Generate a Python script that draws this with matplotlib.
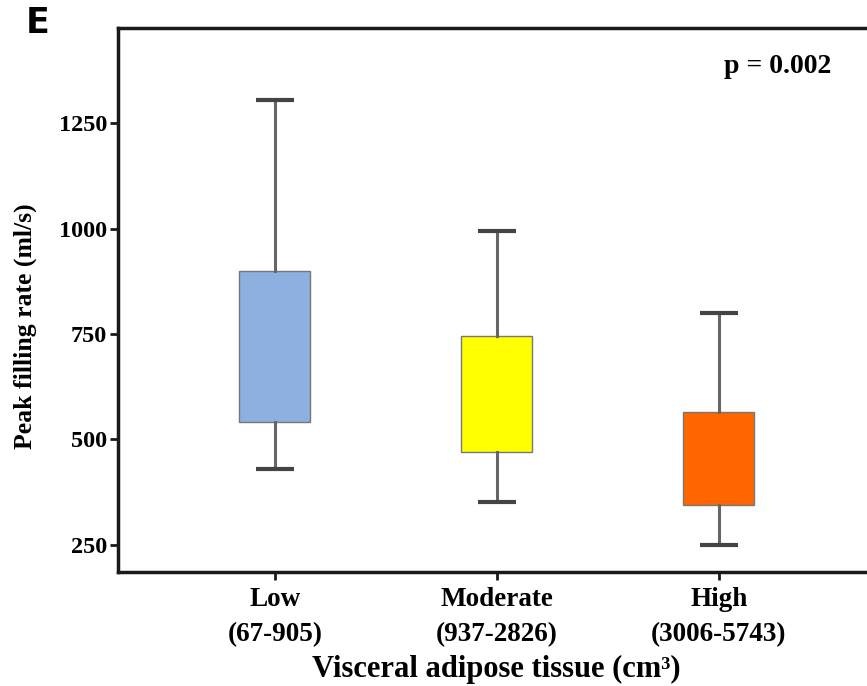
import matplotlib.pyplot as plt

# ---- Data ----
groups = ["Low\n(67-905)", "Moderate\n(937-2826)", "High\n(3006-5743)"]
whisker_low = [430, 350, 250]
box_q1 = [540, 470, 345]
box_q3 = [900, 745, 565]
whisker_high = [1305, 995, 800]
box_colors = ["#8DB0E0", "#FFFF00", "#FF6600"]
y_ticks = [250, 500, 750, 1000, 1250]
p_text = "p = 0.002"

plt.rcParams.update({
    "font.family": "Liberation Serif",
    "font.weight": "bold",
})

fig = plt.figure(figsize=(8.67, 6.86), dpi=100)
ax = fig.add_axes([118 / 867, 1 - 572 / 686, 1 - 118 / 867, (572 - 28) / 686])

stats = []
for lab, lo, q1, q3, hi in zip(groups, whisker_low, box_q1, box_q3, whisker_high):
    stats.append({"label": lab, "whislo": lo, "q1": q1, "med": q1, "q3": q3, "whishi": hi})

bp = ax.bxp(stats, positions=[1, 2, 3], widths=0.32, showfliers=False,
            patch_artist=True,
            boxprops=dict(edgecolor="#777777", linewidth=1.0),
            whiskerprops=dict(color="#666666", linewidth=2.2),
            capprops=dict(color="#444444", linewidth=3.0, solid_capstyle="butt"),
            medianprops=dict(linewidth=0))
for patch, c in zip(bp["boxes"], box_colors):
    patch.set_facecolor(c)
for cap in bp["caps"]:
    xs = cap.get_xdata()
    mid = (xs[0] + xs[1]) / 2
    cap.set_xdata([mid - 0.085, mid + 0.085])

ax.set_xlim(0.293, 3.667)
ax.set_ylim(185, 1476)
ax.set_yticks(y_ticks)

for side in ["left", "bottom", "top"]:
    ax.spines[side].set_linewidth(2.5)
    ax.spines[side].set_color("#1a1a1a")
ax.spines["right"].set_visible(False)

ax.tick_params(axis="both", direction="out", length=6, width=2, color="#1a1a1a", pad=2)
ax.tick_params(axis="y", labelsize=17.5)
ax.tick_params(axis="x", labelsize=19.5, pad=5)
for lbl in ax.get_xticklabels() + ax.get_yticklabels():
    lbl.set_fontweight("bold")
for lbl in ax.get_xticklabels():
    lbl.set_linespacing(1.5)

ax.set_ylabel("Peak filling rate (ml/s)", fontsize=18.5, fontweight="bold")
ax.yaxis.set_label_coords(-0.108, 0.452)
ax.set_xlabel("Visceral adipose tissue (cm³)", fontsize=22, fontweight="bold")
ax.xaxis.set_label_coords(0.505, -0.152)

ax.text(0.953, 0.93, p_text, transform=ax.transAxes, ha="right", va="center",
        fontsize=20, fontweight="bold")

fig.text(0.03, 1 - 33 / 686, "E", fontsize=25, fontweight="bold", family="DejaVu Sans",
         ha="left", va="baseline")

fig.savefig("out.png", dpi=100, facecolor="white")
